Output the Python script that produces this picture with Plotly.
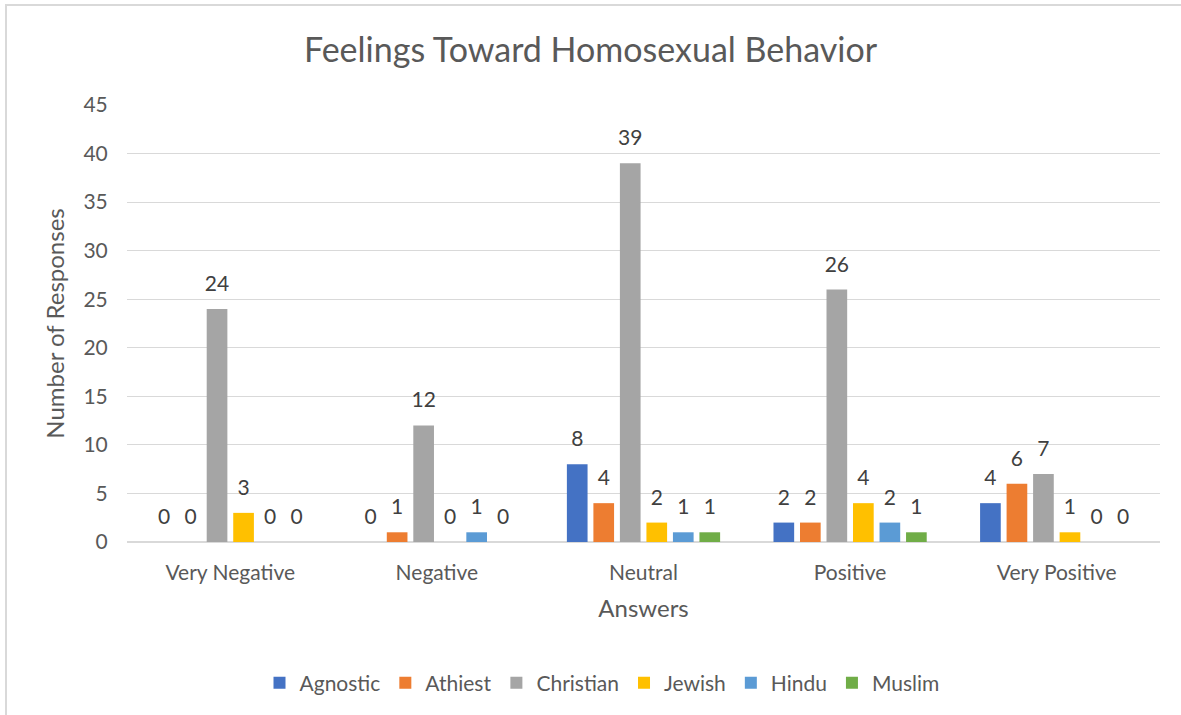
import plotly.graph_objects as go

categories = ["Very Negative", "Negative", "Neutral", "Positive", "Very Positive"]
agnostic = [0, 0, 8, 2, 4]
athiest = [0, 1, 4, 2, 6]
christian = [24, 12, 39, 26, 7]
jewish = [3, 0, 2, 4, 1]
hindu = [0, 1, 1, 2, 0]
muslim = [0, 0, 1, 1, 0]

series = [
    ("Agnostic", agnostic, "#4472C4"),
    ("Athiest", athiest, "#ED7D31"),
    ("Christian", christian, "#A5A5A5"),
    ("Jewish", jewish, "#FFC000"),
    ("Hindu", hindu, "#5B9BD5"),
    ("Muslim", muslim, "#70AD47"),
]

FONT = "Lato, Open Sans, sans-serif"
TXT = "#595959"

fig = go.Figure()
for name, vals, col in series:
    fig.add_trace(go.Bar(
        name=name, x=categories, y=vals, marker_color=col,
        marker_line_width=0,
        text=[f"<span style='font-size:21px'>{v}</span><br> " for v in vals],
        textposition="outside", constraintext="none",
        textfont=dict(size=10, color="#404040", family=FONT),
        cliponaxis=False,
    ))

W, H = 1181, 715
L, R, T, B = 127, 21, 105, 173
pw, ph = W - L - R, H - T - B

fig.update_layout(
    width=W, height=H,
    margin=dict(l=L, r=R, t=T, b=B),
    paper_bgcolor="white", plot_bgcolor="white",
    barmode="group", bargap=0.23, bargroupgap=0.22,
    title=dict(text="Feelings Toward Homosexual Behavior", x=0.5, xanchor="center",
               y=1 - 50 / H, yanchor="middle",
               font=dict(size=34, color=TXT, family=FONT)),
    font=dict(family=FONT, color=TXT),
    legend=dict(orientation="h", x=(602 - L) / pw, xanchor="center", y=-(683 - 542) / ph, yanchor="middle",
                font=dict(size=21, color=TXT, family=FONT), itemwidth=30,
                traceorder="normal"),
    xaxis=dict(showgrid=False, showline=True, linecolor="#d9d9d9", linewidth=1,
               tickfont=dict(size=21, color=TXT, family=FONT),
               ticks="outside", ticklen=12, tickcolor="rgba(0,0,0,0)",
               title=dict(text="Answers", font=dict(size=24, color=TXT, family=FONT), standoff=16)),
    yaxis=dict(range=[0, 45], dtick=5, showgrid=True, gridcolor="#d9d9d9", gridwidth=1,
               zeroline=True, zerolinecolor="#d9d9d9", showline=False,
               tickfont=dict(size=21, color=TXT, family=FONT),
               ticks="outside", ticklen=14, tickcolor="rgba(0,0,0,0)",
               title=dict(text="Number of Responses", font=dict(size=24, color=TXT, family=FONT), standoff=12)),
    showlegend=True,
)

# chart area border
fig.add_shape(type="rect", xref="paper", yref="paper",
              x0=(6 - L) / pw, x1=(W + 10 - L) / pw,
              y0=-(H + 10 - (T + ph)) / ph, y1=1 + (T - 5) / ph,
              line=dict(color="#d9d9d9", width=2), fillcolor="rgba(0,0,0,0)", layer="below")

fig.write_html("out.html")
